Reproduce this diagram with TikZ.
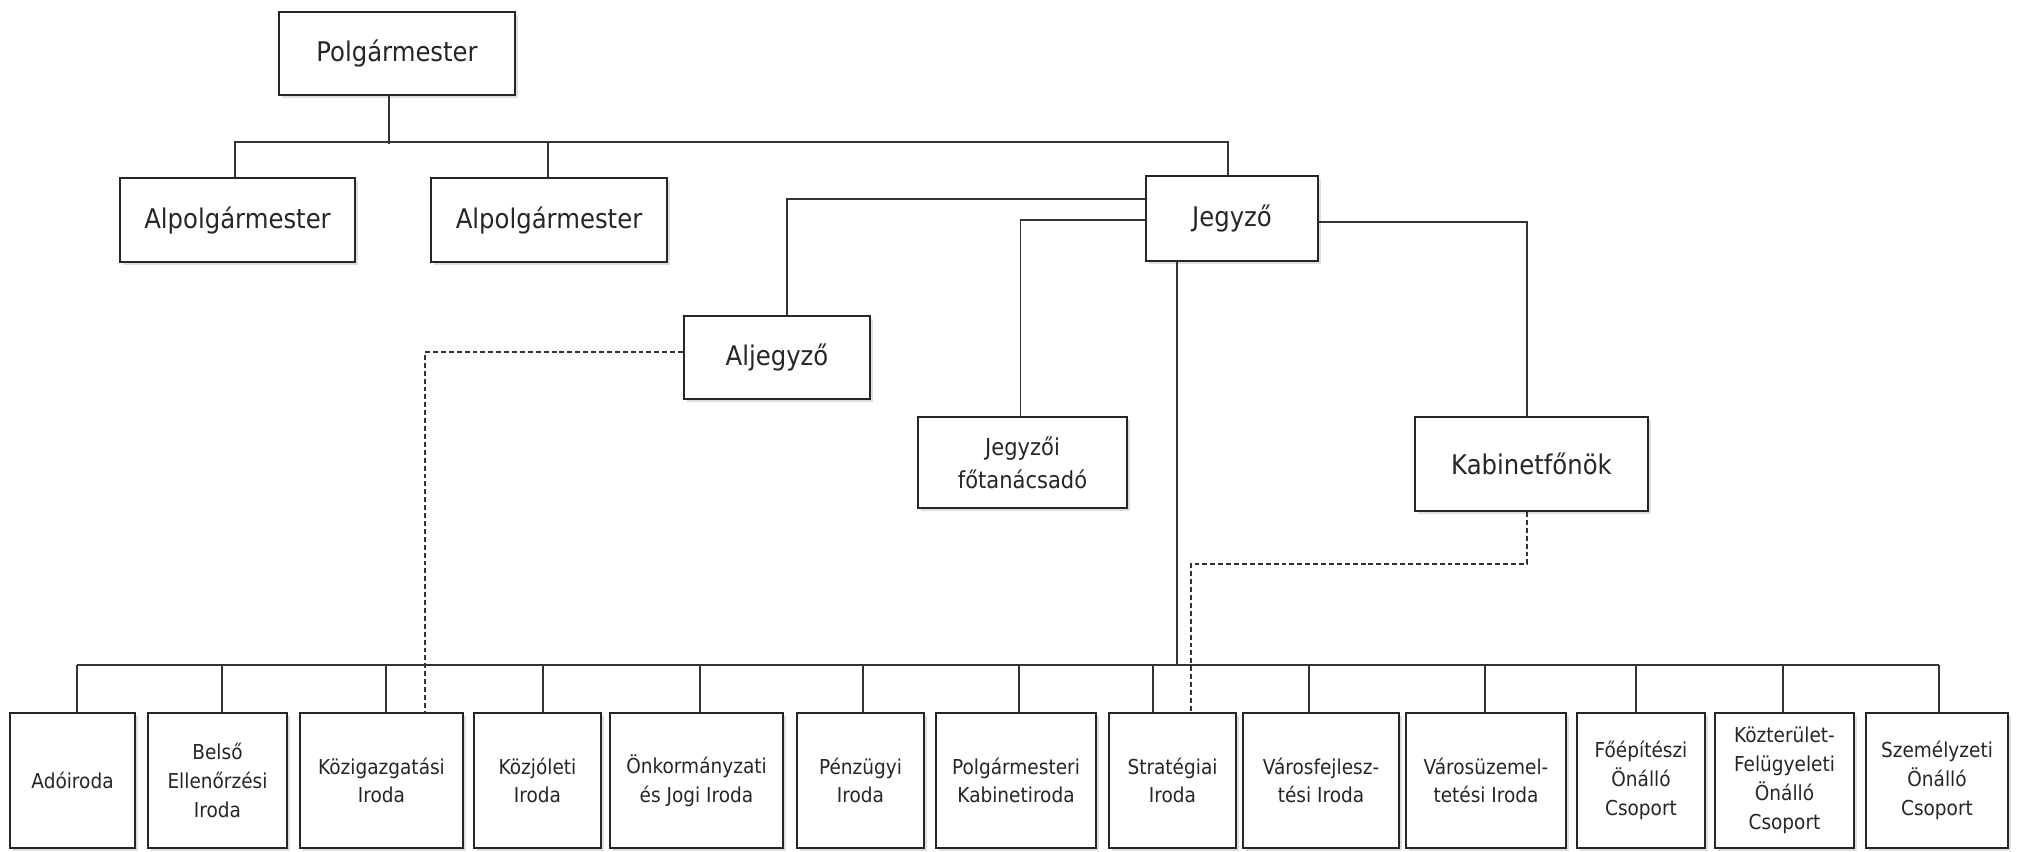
\documentclass[tikz,border=0pt]{standalone}
\usepackage{fontspec}
\newfontfamily\orgfont{DejaVu Sans}[FakeStretch=0.9]
\usepackage{tikz}
\usetikzlibrary{shadows}
\tikzset{
	unit/.style={draw=black!85, line width=1.1pt, fill=white, align=center, inner sep=0pt, text=black!85,
		drop shadow={shadow xshift=1.5pt, shadow yshift=-1.5pt, opacity=0.25}},
	head/.style={unit, font=\orgfont\fontsize{15.4}{19}\selectfont},
	midhead/.style={unit, font=\orgfont\fontsize{13.3}{18.8}\selectfont},
	office/.style={unit, minimum height=27mm, font=\orgfont\fontsize{11.7}{16.4}\selectfont},
	link/.style={draw=black!80, line width=1pt},
	dotlink/.style={link, dash pattern=on 2.8pt off 1.7pt}
}

\begin{document}
\begin{tikzpicture}[x=0.2mm, y=-0.2mm, line cap=butt, line join=miter]
			\useasboundingbox (0,0) rectangle (2020,851);
			\coordinate (bus) at (0,665);

			\node[head, minimum width=47.2mm, minimum height=16.6mm] (polg) at (397,53.5) {Polgármester};
			\node[head, minimum width=47mm, minimum height=16.8mm] (alp1) at (237.5,220) {Alpolgármester};
			\node[head, minimum width=47.2mm, minimum height=16.8mm] (alp2) at (549,220) {Alpolgármester};
			\node[head, minimum width=34.4mm, minimum height=17mm] (jegyzo) at (1232,218.5) {Jegyző};
			\node[head, minimum width=37.2mm, minimum height=16.6mm] (aljegyzo) at (777,357.5) {Aljegyző};
			\node[midhead, minimum width=41.8mm, minimum height=18.2mm] (fotan) at (1022.5,462.5) {Jegyzői\\főtanácsadó};
			\node[head, minimum width=46.6mm, minimum height=18.8mm] (kabinet) at (1531.5,464) {Kabinetfőnök};

			\node[office, minimum width=25mm] (ado) at (72.5,780.5) {Adóiroda};
			\node[office, minimum width=27.8mm] (belso) at (217.5,780.5) {Belső\\Ellenőrzési\\Iroda};
			\node[office, minimum width=32.6mm] (kozig) at (381.5,780.5) {Közigazgatási\\Iroda};
			\node[office, minimum width=25.4mm] (kozjol) at (537.5,780.5) {Közjóleti\\Iroda};
			\node[office, minimum width=34.6mm] (onkorm) at (696.5,780.5) {Önkormányzati\\és Jogi Iroda};
			\node[office, minimum width=25.4mm] (penzugy) at (860.5,780.5) {Pénzügyi\\Iroda};
			\node[office, minimum width=32mm] (polgkab) at (1016,780.5) {Polgármesteri\\Kabinetiroda};
			\node[office, minimum width=25.4mm] (strat) at (1172.5,780.5) {Stratégiai\\Iroda};
			\node[office, minimum width=31.2mm] (varosfejl) at (1321,780.5) {Városfejlesz-\\tési Iroda};
			\node[office, minimum width=32mm] (varosuz) at (1486,780.5) {Városüzemel-\\tetési Iroda};
			\node[office, minimum width=25.6mm] (foepit) at (1641,780.5) {Főépítészi\\Önálló\\Csoport};
			\node[office, minimum width=27.8mm] (kozter) at (1784.5,780.5) {Közterület-\\Felügyeleti\\Önálló\\Csoport};
			\node[office, minimum width=28.4mm] (szemely) at (1937,780.5) {Személyzeti\\Önálló\\Csoport};

			\draw[link] ([xshift=-1.6mm]polg.south) -- ++(0,48);
			\draw[link] ([xshift=-0.5mm]alp1.north) -- ++(0,-35) -| ([xshift=-0.8mm]jegyzo.north);
			\draw[link] ([xshift=-0.2mm]alp2.north) -- ++(0,-35);
			\draw[link] ([yshift=3.9mm]jegyzo.west) -| ([xshift=2mm]aljegyzo.north);
			\draw[link] ([yshift=-0.3mm]jegyzo.west) -| ([xshift=-0.4mm]fotan.north);
			\draw[link] ([yshift=-0.7mm]jegyzo.east) -| ([xshift=-0.9mm]kabinet.north);
			\draw[link] ([xshift=-11mm]jegyzo.south) -- ([xshift=-11mm]jegyzo.south |- bus);

			\draw[link] ([xshift=0.9mm]ado.north |- bus) -- ([xshift=0.4mm]szemely.north |- bus);
			\draw[link] ([xshift=0.9mm]ado.north) -- ([xshift=0.9mm]ado.north |- bus);
			\draw[link] ([xshift=0.9mm]belso.north) -- ([xshift=0.9mm]belso.north |- bus);
			\draw[link] ([xshift=0.9mm]kozig.north) -- ([xshift=0.9mm]kozig.north |- bus);
			\draw[link] ([xshift=1.1mm]kozjol.north) -- ([xshift=1.1mm]kozjol.north |- bus);
			\draw[link] ([xshift=0.7mm]onkorm.north) -- ([xshift=0.7mm]onkorm.north |- bus);
			\draw[link] ([xshift=0.5mm]penzugy.north) -- ([xshift=0.5mm]penzugy.north |- bus);
			\draw[link] ([xshift=0.6mm]polgkab.north) -- ([xshift=0.6mm]polgkab.north |- bus);
			\draw[link] ([xshift=-3.9mm]strat.north) -- ([xshift=-3.9mm]strat.north |- bus);
			\draw[link] ([xshift=-2.4mm]varosfejl.north) -- ([xshift=-2.4mm]varosfejl.north |- bus);
			\draw[link] ([xshift=-0.2mm]varosuz.north) -- ([xshift=-0.2mm]varosuz.north |- bus);
			\draw[link] ([xshift=-1mm]foepit.north) -- ([xshift=-1mm]foepit.north |- bus);
			\draw[link] ([xshift=-0.3mm]kozter.north) -- ([xshift=-0.3mm]kozter.north |- bus);
			\draw[link] ([xshift=0.4mm]szemely.north) -- ([xshift=0.4mm]szemely.north |- bus);

			\draw[dotlink] ([yshift=1.1mm]aljegyzo.west) -| ([xshift=8.7mm]kozig.north);
			\draw[dotlink] ([xshift=-0.9mm]kabinet.south) -- ++(0,52) -| ([xshift=3.7mm]strat.north);
		\end{tikzpicture}
\end{document}
